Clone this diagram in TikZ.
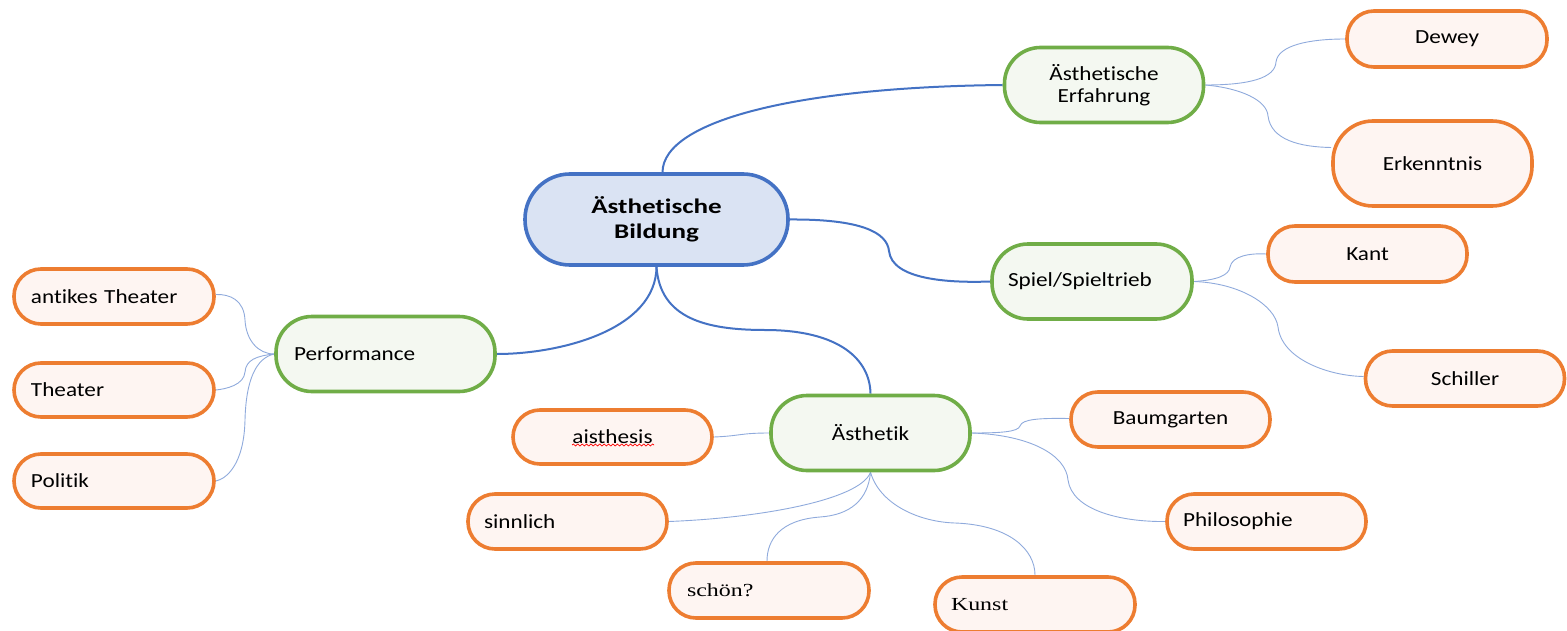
\documentclass[tikz,border=0pt]{standalone}
\usepackage{fontspec}
\setmainfont{Carlito}[FakeStretch=1.16,Ligatures=NoCommon]
\newfontfamily\cenfont{Carlito}[FakeStretch=1.3,Ligatures=NoCommon]
\newfontfamily\tnrfont{Liberation Serif}[FakeStretch=1.3,Ligatures=NoCommon]
\usetikzlibrary{decorations.pathmorphing,backgrounds}
\definecolor{mainblue}{HTML}{4472C4}
\definecolor{thinblue}{HTML}{8FAADC}
\definecolor{cenfill}{RGB}{218,227,243}
\definecolor{greenB}{HTML}{70AD47}
\definecolor{greenF}{RGB}{244,248,241}
\definecolor{orangeB}{HTML}{ED7D31}
\definecolor{orangeF}{RGB}{254,245,242}
\begin{document}
\begin{tikzpicture}[x=0.5pt,y=-0.5pt,
  box/.style={rectangle, line width=1.8pt, inner sep=0pt, text=black,
    font=\fontsize{10}{11}\selectfont},
  ob/.style={box, draw=orangeB, fill=orangeF, minimum width=99.5pt,
    minimum height=27.5pt, rounded corners=13.5pt},
  gb/.style={box, draw=greenB, fill=greenF, minimum width=99.5pt,
    minimum height=37.5pt, rounded corners=18pt},
  lft/.style={text width=#1, align=left},
  tnr/.style={font=\tnrfont\fontsize{9.2}{11}\selectfont},
  mainlink/.style={draw=mainblue, line width=1pt},
  sublink/.style={draw=thinblue, line width=0.45pt}]
\useasboundingbox (0,0) rectangle (1567,631);

% central
\node[box, draw=mainblue, fill=cenfill, minimum width=131.5pt, minimum height=45.5pt,
  rounded corners=22.5pt, align=center, font=\cenfont\bfseries\fontsize{10.4}{12.5}\selectfont]
  (c) at (656.5,219.5) {Ästhetische\\Bildung};

% green nodes
\node[gb, align=center] (erf) at (1104,85) {Ästhetische\\Erfahrung};
\node[gb, minimum width=100pt, lft=84pt] (spiel) at (1092,281.5) {Spiel/Spieltrieb};
\node[gb, minimum width=109.5pt, lft=91.5pt] (perf) at (385.5,354) {Performance};
\node[gb] (ast) at (870.5,433) {Ästhetik};

% orange nodes
\node[ob, minimum width=100pt, minimum height=28pt] (dewey) at (1447,39) {Dewey};
\node[ob, minimum height=42.5pt, rounded corners=20pt] (erk) at (1432.5,163.5) {Erkenntnis};
\node[ob, minimum height=28pt] (kant) at (1367.5,254) {Kant};
\node[ob] (schiller) at (1465,378.5) {Schiller};
\node[ob] (baum) at (1170.5,419.5) {Baumgarten};
\node[ob, lft=83.5pt] (phil) at (1266.5,521.5) {Philosophie};
\node[ob, minimum height=27pt] (ais) at (612.5,437) {aisthesis};
\node[ob, lft=83.5pt] (sinn) at (567.5,521.5) {sinnlich};
\node[ob, minimum width=100pt, lft=82pt, tnr] (schoen) at (769,590.5) {schön?};
\node[ob, minimum width=100pt, lft=84pt, tnr] (kunst) at (1035,604.5) {Kunst};
\node[ob, minimum width=100pt, lft=83pt] (ant) at (114,296.5) {antikes Theater};
\node[ob, minimum width=100pt, minimum height=27pt, lft=83pt] (thea) at (114,390) {Theater};
\node[ob, minimum width=100pt, minimum height=27pt, lft=83pt] (pol) at (114,481) {Politik};

% spell-check underline
\draw[red, line width=0.35pt, decorate, decoration={snake, amplitude=0.5pt, segment length=2.2pt}]
  (572,445) -- (654,445);

\begin{scope}[on background layer]
% main connectors
\draw[mainlink] ([xshift=3pt]c.north) .. controls (663,120) and (800,87) .. (erf.west);
\draw[mainlink] (c.east) .. controls (860,219) and (887,232) .. (889,251)
  .. controls (892,280) and (950,283) .. (spiel.west);
\draw[mainlink] (c.south) .. controls (656,330) and (560,354) .. (perf.east);
\draw[mainlink] (c.south) .. controls (660,318) and (705,330) .. (765,330)
  .. controls (840,330) and (870,360) .. (ast.north);

% sub connectors
\draw[sublink] (erf.east) .. controls (1250,85) and (1275,78) .. (1276,62)
  .. controls (1278,45) and (1310,39) .. (dewey.west);
\draw[sublink] (erf.east) .. controls (1240,88) and (1267,100) .. (1268,116)
  .. controls (1271,140) and (1300,147) .. ([yshift=8pt]erk.west);
\draw[sublink] (spiel.east) .. controls (1218,280) and (1229,275) .. (1230,267)
  .. controls (1232,256) and (1250,253) .. (kant.west);
\draw[sublink] (spiel.east) .. controls (1240,283) and (1275,305) .. (1278,327)
  .. controls (1282,360) and (1330,376) .. ([yshift=1pt]schiller.west);
\draw[sublink] (perf.west) .. controls (258,354) and (246,340) .. (245,320)
  .. controls (244,300) and (230,294) .. ([yshift=1pt]ant.east);
\draw[sublink] (perf.west) .. controls (256,356) and (246,360) .. (245,372)
  .. controls (244,385) and (226,389) .. (thea.east);
\draw[sublink] (perf.west) .. controls (256,358) and (246,380) .. (245,420)
  .. controls (244,465) and (226,479) .. (pol.east);
\draw[sublink] (ast.west) .. controls (740,433) and (740,436) .. (ais.east);
\draw[sublink] (ast.east) .. controls (1000,433) and (1018,432) .. (1020,426)
  .. controls (1022,419) and (1040,418) .. ([yshift=0.5pt]baum.west);
\draw[sublink] (ast.east) .. controls (1030,435) and (1066,455) .. (1068,480)
  .. controls (1072,510) and (1120,522) .. (phil.west);
\draw[sublink] (ast.south) .. controls (860,500) and (760,518) .. (sinn.east);
\draw[sublink] (ast.south) .. controls (868,500) and (850,515) .. (820,517)
  .. controls (780,520) and (767,540) .. ([xshift=-1pt]schoen.north);
\draw[sublink] (ast.south) .. controls (880,505) and (920,522) .. (955,523)
  .. controls (1010,525) and (1035,550) .. (kunst.north);
\end{scope}
\end{tikzpicture}
\end{document}
